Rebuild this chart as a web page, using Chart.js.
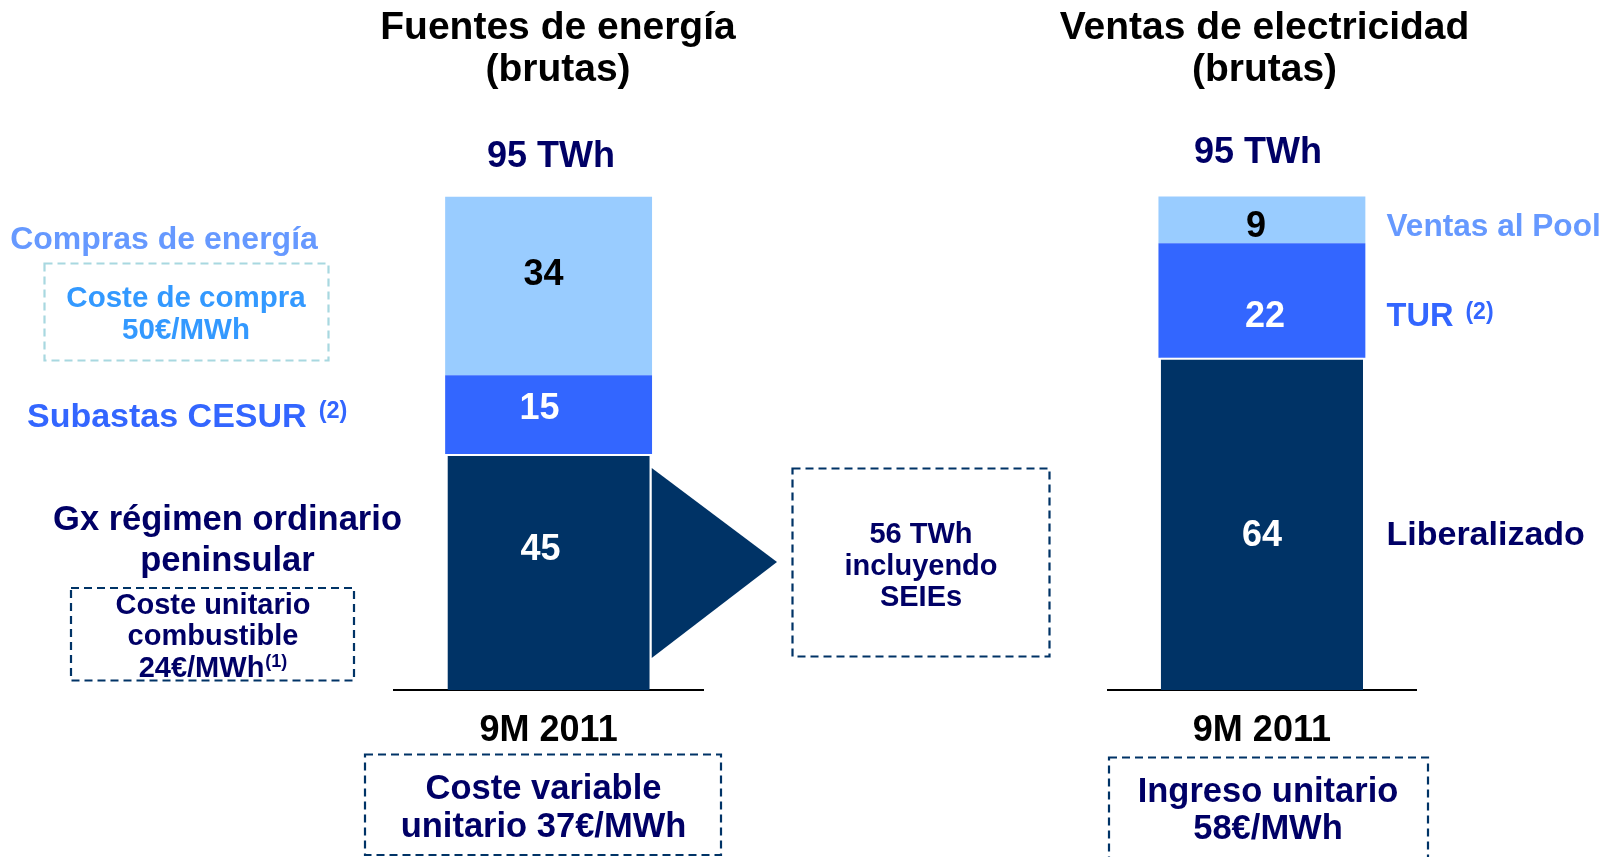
<!DOCTYPE html>
<html><head><meta charset="utf-8">
<script src="https://cdn.jsdelivr.net/npm/chart.js@4.4.1/dist/chart.umd.min.js"></script>
<style>
html,body{margin:0;padding:0;background:#fff;width:1614px;height:857px;overflow:hidden}
canvas{position:absolute;left:0;top:0}
</style></head><body>
<canvas id="left" width="1614" height="857"></canvas>
<canvas id="right" width="1614" height="857"></canvas>
<script>
// ---- data ----
const categories = ['9M 2011'];
const fuentesSeries = ['Gx régimen ordinario peninsular', 'Subastas CESUR', 'Compras de energía'];
const fuentesValues = [45, 15, 34];
const ventasSeries = ['Liberalizado', 'TUR', 'Ventas al Pool'];
const ventasValues = [64, 22, 9];
const totalLabels = ['95 TWh', '95 TWh'];

// ---- styles ----
const FONT = '"Liberation Sans", Arial, Helvetica, sans-serif';
const segColors = ['#003366', '#3366FF', '#99CCFF'];
const valueColors = ['#FFFFFF', '#FFFFFF', '#000000'];
const NAVY = '#000066';
const TEXT_DY = 2.5;

function txt(ctx, s, x, y, size, color, align) {
  ctx.font = 'bold ' + size + 'px ' + FONT;
  ctx.fillStyle = color;
  ctx.textAlign = align || 'center';
  ctx.textBaseline = 'middle';
  ctx.fillText(s, x, y + TEXT_DY);
  return ctx.measureText(s).width;
}
function supText(ctx, main, sup, x, y, size, supSize, supDy, color, align, gap) {
  ctx.font = 'bold ' + size + 'px ' + FONT;
  const w1 = ctx.measureText(main).width;
  ctx.font = 'bold ' + supSize + 'px ' + FONT;
  const w2 = ctx.measureText(sup).width;
  let x0 = x;
  if (align === 'center') x0 = x - (w1 + gap + w2) / 2;
  txt(ctx, main, x0, y, size, color, 'left');
  txt(ctx, sup, x0 + w1 + gap, y + supDy, supSize, color, 'left');
}
function dashedBox(ctx, x, y, w, h, color) {
  ctx.save();
  ctx.strokeStyle = color;
  ctx.lineWidth = 2.2;
  ctx.setLineDash([8, 5]);
  ctx.strokeRect(x, y, w, h);
  ctx.restore();
}

const valueLabels = {
  id: 'valueLabels',
  afterDatasetsDraw(chart, args, opts) {
    const ctx = chart.ctx;
    chart.data.datasets.forEach((ds, i) => {
      const meta = chart.getDatasetMeta(i);
      meta.data.forEach((bar, j) => {
        const yc = (bar.y + bar.base) / 2 + (opts.dy[i] || 0);
        txt(ctx, String(ds.data[j]), bar.x + (opts.dx[i] || 0), yc, 36, valueColors[i]);
      });
    });
  }
};

const leftDecor = {
  id: 'leftDecor',
  afterDraw(chart) {
    const ctx = chart.ctx;
    ctx.save();
    txt(ctx, 'Fuentes de energía', 558, 26, 39, '#000000');
    txt(ctx, '(brutas)', 558, 68, 39, '#000000');
    txt(ctx, totalLabels[0], 551, 155, 36, NAVY);

    txt(ctx, fuentesSeries[2], 164, 238, 32, '#6699FF');
    dashedBox(ctx, 44.5, 263.5, 284, 97, '#A8D8E0');
    txt(ctx, 'Coste de compra', 186, 296.5, 29.5, '#3399FF');
    txt(ctx, '50€/MWh', 186, 328.5, 29.5, '#3399FF');

    supText(ctx, fuentesSeries[1], '(2)', 27, 415, 34, 23.5, -6, '#3366FF', 'left', 12);

    txt(ctx, 'Gx régimen ordinario', 227.5, 518, 34.5, NAVY);
    txt(ctx, 'peninsular', 227.5, 559, 34.5, NAVY);
    dashedBox(ctx, 71, 588, 283, 92.5, '#003366');
    txt(ctx, 'Coste unitario', 213, 603.5, 29, NAVY);
    txt(ctx, 'combustible', 213, 634.5, 29, NAVY);
    supText(ctx, '24€/MWh', '(1)', 213, 666, 29, 18, -6, NAVY, 'center', 1);

    // arrow triangle from the generation segment
    const meta = chart.getDatasetMeta(0).data[0];
    const xr = meta.x + meta.width / 2 + 2;
    ctx.fillStyle = '#003366';
    ctx.beginPath();
    ctx.moveTo(xr, 468);
    ctx.lineTo(777, 562);
    ctx.lineTo(xr, 658);
    ctx.closePath();
    ctx.fill();

    dashedBox(ctx, 792.5, 468.5, 257, 188, '#003366');
    txt(ctx, '56 TWh', 921, 532, 29, NAVY);
    txt(ctx, 'incluyendo', 921, 564, 29, NAVY);
    txt(ctx, 'SEIEs', 921, 595, 29, NAVY);

    dashedBox(ctx, 365, 754.5, 356, 100.5, '#003366');
    txt(ctx, 'Coste variable', 543.5, 786.5, 34.5, NAVY);
    txt(ctx, 'unitario 37€/MWh', 543.5, 824.5, 34.5, NAVY);
    ctx.restore();
  }
};

const rightDecor = {
  id: 'rightDecor',
  afterDraw(chart) {
    const ctx = chart.ctx;
    ctx.save();
    txt(ctx, 'Ventas de electricidad', 1264.5, 26, 39, '#000000');
    txt(ctx, '(brutas)', 1264.5, 68, 39, '#000000');
    txt(ctx, totalLabels[1], 1258, 151, 36, NAVY);

    txt(ctx, ventasSeries[2], 1386.5, 224.5, 31.6, '#6699FF', 'left');
    supText(ctx, ventasSeries[1], '(2)', 1386.5, 315, 32.6, 23, -5, '#3366FF', 'left', 12);
    txt(ctx, ventasSeries[0], 1386.5, 533, 34, NAVY, 'left');

    dashedBox(ctx, 1109, 757.5, 319, 105, '#003366');
    txt(ctx, 'Ingreso unitario', 1268, 789.5, 34.5, NAVY);
    txt(ctx, '58€/MWh', 1268, 826.5, 34.5, NAVY);
    ctx.restore();
  }
};

function makeDatasets(names, values) {
  return names.map((n, i) => ({
    label: n,
    data: [values[i]],
    backgroundColor: segColors[i],
    borderColor: '#FFFFFF',
    borderWidth: i === 0 ? {top: 2, left: 0, right: 0, bottom: 0} : 0,
    borderSkipped: false,
    barPercentage: i === 0 ? 0.655 : 0.67,
    categoryPercentage: 1.0
  }));
}

function makeOptions(padL, padR, yMax, dy, dx) {
  return {
    responsive: false,
    animation: false,
    devicePixelRatio: 1,
    layout: { padding: { left: padL, right: padR, top: 170.6, bottom: 84.6 } },
    plugins: {
      legend: { display: false },
      title: { display: false },
      tooltip: { enabled: false },
      valueLabels: { dy: dy, dx: dx }
    },
    scales: {
      x: {
        stacked: true,
        grid: { display: false, drawTicks: false },
        border: { display: true, color: '#000000', width: 2 },
        ticks: { color: '#000000', padding: 19.5, font: { family: FONT, size: 36, weight: 'bold' } }
      },
      y: { stacked: true, display: false, min: 0, max: yMax }
    }
  };
}

new Chart(document.getElementById('left'), {
  type: 'bar',
  data: { labels: categories, datasets: makeDatasets(fuentesSeries, fuentesValues) },
  options: makeOptions(394.2, 1614 - 703, 99, [-25, -8.5, -13], [-8, -9, -5]),
  plugins: [valueLabels, leftDecor]
});
new Chart(document.getElementById('right'), {
  type: 'bar',
  data: { labels: categories, datasets: makeDatasets(ventasSeries, ventasValues) },
  options: makeOptions(1107.5, 1614 - 1416.3, 100, [10, 13.8, 4.5], [0, 3, -6]),
  plugins: [valueLabels, rightDecor]
});
</script>
</body></html>
